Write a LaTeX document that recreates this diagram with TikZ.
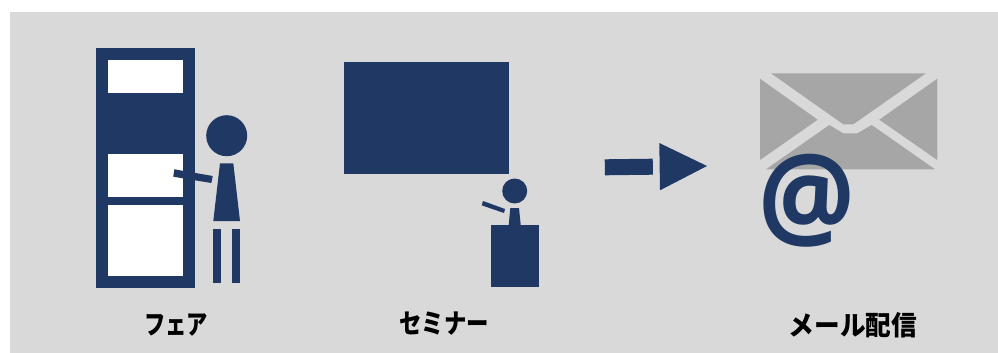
\documentclass[tikz,border=0pt]{standalone}
\usepackage{fontspec}
\setmainfont{Noto Sans CJK JP}[BoldFont={* Black}]
\newfontfamily\atfont{Open Sans}[BoldFont={* Bold}]
\definecolor{panelgray}{HTML}{D9D9D9}
\definecolor{navy}{HTML}{1F3864}
\definecolor{mailgray}{HTML}{A6A6A6}
\tikzset{
  navyfill/.style={fill=navy},
  mailfill/.style={fill=mailgray},
  caption/.style={font=\bfseries\fontsize{27}{27}\selectfont, text=black, inner sep=0pt},
}
\begin{document}
\begin{tikzpicture}[x=1pt,y=-1pt]
    \useasboundingbox (0,0) rectangle (998,353);
    \fill[panelgray] (10,12) rectangle (998,353);

    % booth
    \fill[navyfill] (96.3,48.3) rectangle (195,288.3);
    \fill[white] (108.3,60.3) rectangle (183,92.7);
    \fill[white] (108.3,154) rectangle (183,196.7);
    \fill[white] (108.3,205) rectangle (183,276);

    % person at the booth
    \fill[navyfill] (226.7,135.7) circle (20.5);
    \fill[navyfill] (220,163.3) -- (233.3,163.3) -- (240,221) -- (213.3,221) -- cycle;
    \fill[navyfill] (213,229) rectangle (221,283);
    \fill[navyfill] (232,229) rectangle (240,283);
    \fill[navyfill] (174.3,169.3) -- (212.7,176) -- (211.3,183) -- (173.3,176.7) -- cycle;

    % screen and speaker
    \fill[navyfill] (344,62) rectangle (509,174);
    \fill[navyfill] (514.7,191) circle (12.5);
    \fill[navyfill] (510.3,208) -- (519,208) -- (520.7,225) -- (508.7,225) -- cycle;
    \fill[navyfill] (491,225) rectangle (539,287);
    \fill[navyfill] (483,201) -- (505,209) -- (504,213) -- (481.7,205.3) -- cycle;

    % arrow
    \fill[navyfill] (604.7,159.3) -- (652.7,158.7) -- (653,174.7) -- (605,175.3) -- cycle;
    \fill[navyfill] (659.3,143) -- (707,166) -- (660,190.3) -- cycle;

    % envelope
    \fill[mailfill] (771,73.3) -- (926,73.3) -- (853.3,124.3) -- (843.3,124.3) -- cycle;
    \fill[mailfill] (760,78.7) -- (817.7,119.7) -- (760,160) -- cycle;
    \fill[mailfill] (937.3,78.7) -- (879.3,119.7) -- (937.3,160) -- cycle;
    \fill[mailfill] (766,169.3) -- (829.3,125) -- (843.3,133.3) -- (857.3,133.3) -- (871.7,125) -- (935,169.3) -- cycle;

    \node[text=navy, inner sep=0pt, yscale=1.08, font=\atfont\bfseries\fontsize{108}{108}\selectfont] (atsign) at (807,200.5) {@};

    \node[caption, xscale=0.79] (fair) at (176,325) {フェア};
    \node[caption, xscale=0.83] (seminar) at (444,324) {セミナー};
    \node[caption, xscale=0.95] (mail) at (853,325) {メール配信};
\end{tikzpicture}
\end{document}
